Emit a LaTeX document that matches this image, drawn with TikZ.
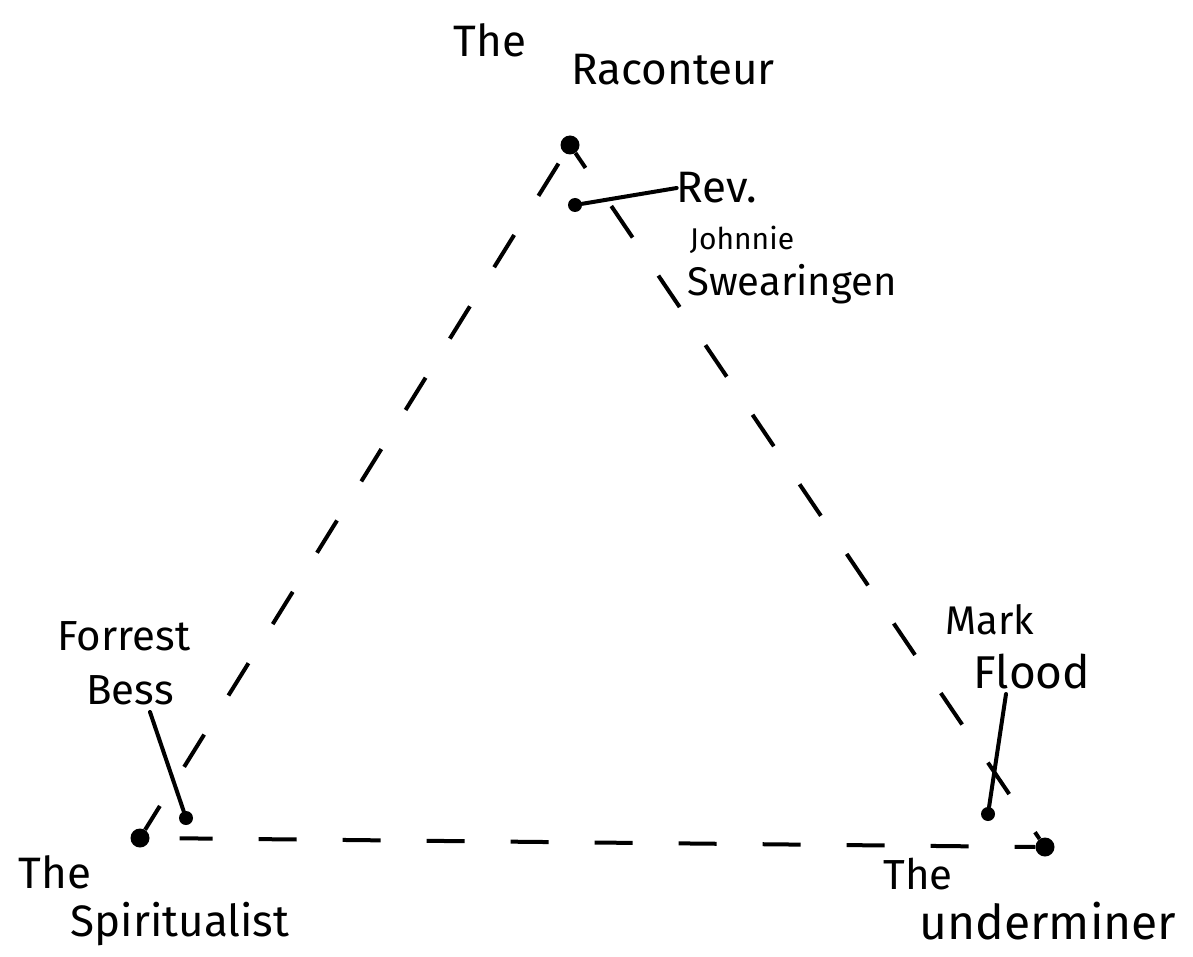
\documentclass[tikz,border=0pt]{standalone}
\usepackage{fontspec}
\setmainfont{Fira Sans}
\begin{document}
\begin{tikzpicture}[x=1pt,y=-1pt,
  lab/.style={inner sep=0pt, font=\fontsize{#1}{#1}\selectfont},
  vdot/.style={circle, fill=black, inner sep=0pt, minimum size=19pt},
  pdot/.style={circle, fill=black, inner sep=0pt, minimum size=14pt},
  side/.style={line width=4pt, dash pattern=on 38pt off 46pt},
  leader/.style={line width=4pt, line cap=round}]
\useasboundingbox (0,0) rectangle (1193,957);
% vertices
\node[vdot] (top) at (570,145) {};
\node[vdot] (left) at (140,838) {};
\node[vdot] (right) at (1045,847) {};
% person dots
\node[pdot] (rev) at (575,205) {};
\node[pdot] (bess) at (186,818) {};
\node[pdot] (flood) at (988,814) {};
% triangle sides
\draw[side, dash phase=10pt] (left) -- (top);
\draw[side, dash phase=20pt] (top) -- (right);
\draw[side, dash phase=5pt, shorten <=30pt] (left.east) -- (right.west);
% labels
\node[lab=44] (the1) at (490,40) {The};
\node[lab=44] (rac) at (673,70) {Raconteur};
\node[lab=44] (revl) at (717,188) {Rev.};
\node[lab=30] (john) at (742,240) {Johnnie};
\node[lab=40] (swe) at (792,284) {Swearingen};
\node[lab=42] (forr) at (124,636) {Forrest};
\node[lab=42] (bessl) at (130,690) {Bess};
\node[lab=40] (mark) at (990,620) {Mark};
\node[lab=46] (floodl) at (1032,672) {Flood};
\node[lab=44] (the2) at (55,872) {The};
\node[lab=44] (spir) at (180,924) {Spiritualist};
\node[lab=42] (the3) at (918,874) {The};
\node[lab=48] (under) at (1048,921) {underminer};
% leaders
\coordinate (bessend) at (150,712);
\coordinate (floodend) at (1006,694);
\draw[leader] (rev) -- (revl.west);
\draw[leader] (bess) -- (bessend);
\draw[leader] (flood) -- (floodend);
\end{tikzpicture}
\end{document}
